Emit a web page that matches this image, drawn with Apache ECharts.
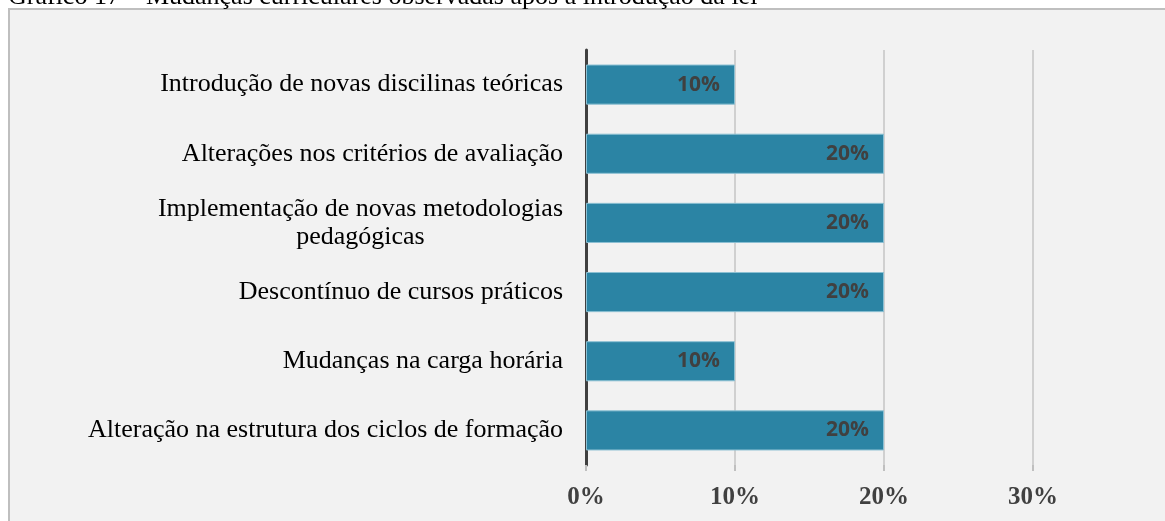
<!DOCTYPE html>
<html lang="pt">
<head>
<meta charset="UTF-8">
<title>Mudanças curriculares observadas após a introdução da lei</title>
<script src="https://cdn.jsdelivr.net/npm/echarts@6/dist/echarts.min.js"></script>
<style>
  html, body { margin: 0; padding: 0; background: #fff; }
  #main { width: 1165px; height: 521px; }
</style>
</head>
<body>
<div id="main"></div>
<script>
  // dados (de cima para baixo)
  var categorias = [
    'Introdução de novas discilinas teóricas',
    'Alterações nos critérios de avaliação',
    'Implementação de novas metodologias\npedagógicas',
    'Descontínuo de cursos práticos',
    'Mudanças na carga horária',
    'Alteração na estrutura dos ciclos de formação'
  ];
  var percentuais = [10, 20, 20, 20, 10, 20];
  var titulo = 'Gráfico 17 – Mudanças curriculares observadas após a introdução da lei';

  var myChart = echarts.init(document.getElementById('main'));
  myChart.setOption({
    backgroundColor: '#ffffff',
    animation: false,
    graphic: [{
      type: 'rect',
      z: -10,
      shape: { x: 9, y: 9, width: 1170, height: 530 },
      style: { fill: '#f2f2f2', stroke: '#bfbfbf', lineWidth: 2 }
    }, {
      type: 'text',
      z: 10,
      x: 8,
      y: 10,
      style: {
        text: titulo,
        fill: '#000',
        font: '26px "Liberation Serif"',
        verticalAlign: 'bottom'
      }
    }],
    grid: { left: 586, right: 132, top: 50, bottom: 56 },
    xAxis: {
      type: 'value',
      min: 0,
      max: 30,
      interval: 10,
      axisLine: { show: false },
      axisTick: { show: true, length: 6, lineStyle: { color: '#bfbfbf', width: 2 } },
      splitLine: { show: true, lineStyle: { color: '#d0d0d0', width: 2 } },
      axisLabel: {
        formatter: '{value}%',
        margin: 20,
        color: '#404040',
        fontFamily: 'Liberation Serif',
        fontWeight: 'bold',
        fontSize: 25
      }
    },
    yAxis: {
      type: 'category',
      inverse: true,
      data: categorias,
      axisLine: { show: true, lineStyle: { color: '#404040', width: 3 } },
      axisTick: { show: false },
      axisLabel: {
        margin: 23,
        color: '#000',
        fontFamily: 'Liberation Serif',
        fontSize: 26,
        lineHeight: 28,
        formatter: function (v) {
          return v.split('\n').map(function (l) { return '{c|' + l + '}'; }).join('\n');
        },
        rich: {
          c: { align: 'center', fontFamily: 'Liberation Serif', fontSize: 26, color: '#000', lineHeight: 28 }
        }
      }
    },
    series: [{
      type: 'bar',
      data: percentuais,
      barWidth: '58%',
      itemStyle: { color: '#2b84a4', borderColor: '#8cc0d3', borderWidth: 1 },
      label: {
        show: true,
        position: 'insideRight',
        distance: 15,
        formatter: '{c}%',
        color: '#404040',
        fontFamily: 'Open Sans',
        fontWeight: 'bold',
        fontSize: 21
      }
    }]
  });
</script>
</body>
</html>
